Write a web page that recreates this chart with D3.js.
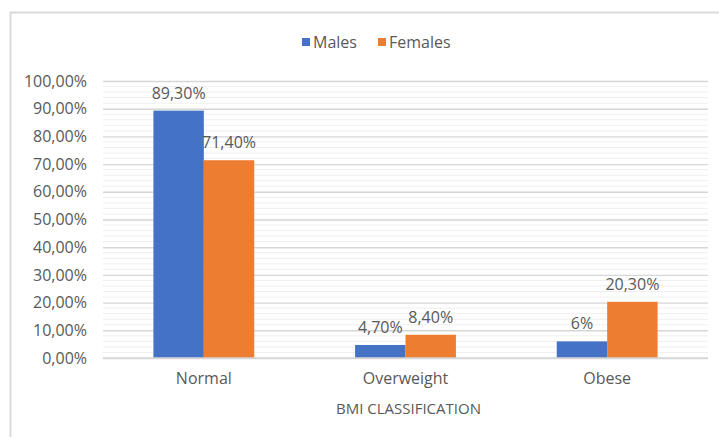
<!DOCTYPE html>
<html>
<head>
<meta charset="utf-8">
<script src="https://cdn.jsdelivr.net/npm/d3@7/dist/d3.min.js"></script>
<style>
  html, body { margin: 0; padding: 0; background: #fff; }
  svg text { font-family: "Open Sans", Lato, sans-serif; fill: #595959; }
</style>
</head>
<body>
<svg id="chart" width="719" height="437"></svg>
<script>
// BMI classification by sex
const categories = ["Normal", "Overweight", "Obese"];
const seriesNames = ["Males", "Females"];
const males = [89.3, 4.7, 6];
const females = [71.4, 8.4, 20.3];
const valueLabels = [["89,30%", "71,40%"], ["4,70%", "8,40%"], ["6%", "20,30%"]];
const yTicks = [0, 10, 20, 30, 40, 50, 60, 70, 80, 90, 100];
const colors = ["#4472C4", "#ED7D31"];

const svg = d3.select("#chart");
const W = 719, H = 437;

// chart area frame
svg.append("path")
  .attr("d", `M10.5,${H} V12.5 H${W}`)
  .attr("fill", "none").attr("stroke", "#d9d9d9").attr("stroke-width", 2);

const m = { left: 103, right: 11, top: 81, bottom: 79 };
const x0 = d3.scaleBand().domain(categories).range([m.left, W - m.right]).paddingInner(0.5).paddingOuter(0.25);
const x1 = d3.scaleBand().domain(seriesNames).range([0, x0.bandwidth()]);
const y = d3.scaleLinear().domain([0, 100]).range([H - m.bottom, m.top]);

// minor gridlines every 2%
const minor = d3.range(0, 100, 2).filter(v => v % 10 !== 0);
svg.append("g").selectAll("line").data(minor).join("line")
  .attr("x1", m.left).attr("x2", W - m.right)
  .attr("y1", d => y(d)).attr("y2", d => y(d))
  .attr("stroke", "#efefef").attr("stroke-width", 1);

// major gridlines and y axis labels
const yAxis = d3.axisLeft(y).tickValues(yTicks).tickSize(-(W - m.left - m.right)).tickPadding(16)
  .tickFormat(d => d3.format(".2f")(d).replace(".", ",") + "%");
const gy = svg.append("g").attr("transform", `translate(${m.left},0)`).call(yAxis);
gy.select(".domain").remove();
gy.selectAll(".tick line").attr("stroke", "#d6d6d6").attr("stroke-width", 1.4);
gy.selectAll(".tick text").style("font-size", "16px").attr("fill", "#595959");

// bars
const data = categories.map((c, i) => ({ cat: c, vals: [males[i], females[i]], labels: valueLabels[i] }));
const groups = svg.append("g").selectAll("g").data(data).join("g")
  .attr("transform", d => `translate(${x0(d.cat)},0)`);
groups.selectAll("rect").data(d => d.vals.map((v, j) => ({ v, j, s: seriesNames[j] }))).join("rect")
  .attr("x", d => x1(d.s)).attr("width", x1.bandwidth())
  .attr("y", d => y(d.v)).attr("height", d => y(0) - y(d.v))
  .attr("fill", d => colors[d.j]);
groups.selectAll("text").data(d => d.vals.map((v, j) => ({ v, j, s: seriesNames[j], t: d.labels[j] }))).join("text")
  .attr("x", d => x1(d.s) + x1.bandwidth() / 2)
  .attr("y", d => y(d.v) - 18)
  .attr("text-anchor", "middle").attr("dominant-baseline", "central")
  .style("font-size", "16px").text(d => d.t);

// baseline
svg.append("line").attr("x1", m.left).attr("x2", W - m.right)
  .attr("y1", y(0)).attr("y2", y(0)).attr("stroke", "#d6d6d6").attr("stroke-width", 1.5);

// category labels
const xAxis = d3.axisBottom(x0).tickSize(0).tickPadding(15);
const gx = svg.append("g").attr("transform", `translate(0,${y(0)})`).call(xAxis);
gx.select(".domain").remove();
gx.selectAll(".tick text").style("font-size", "16px").attr("fill", "#595959");

// axis title
svg.append("text").attr("x", (m.left + W - m.right) / 2 + 3).attr("y", 408)
  .attr("text-anchor", "middle").attr("dominant-baseline", "central")
  .style("font-size", "15px").text("BMI CLASSIFICATION");

// legend
const legend = svg.append("g");
const legendItems = [{ name: "Males", x: 302 }, { name: "Females", x: 378 }];
legendItems.forEach((it, i) => {
  legend.append("rect").attr("x", it.x).attr("y", 38).attr("width", 8).attr("height", 8).attr("fill", colors[i]);
  legend.append("text").attr("x", it.x + 11).attr("y", 42).attr("dominant-baseline", "central")
    .style("font-size", "16px").text(it.name);
});
</script>
</body>
</html>
